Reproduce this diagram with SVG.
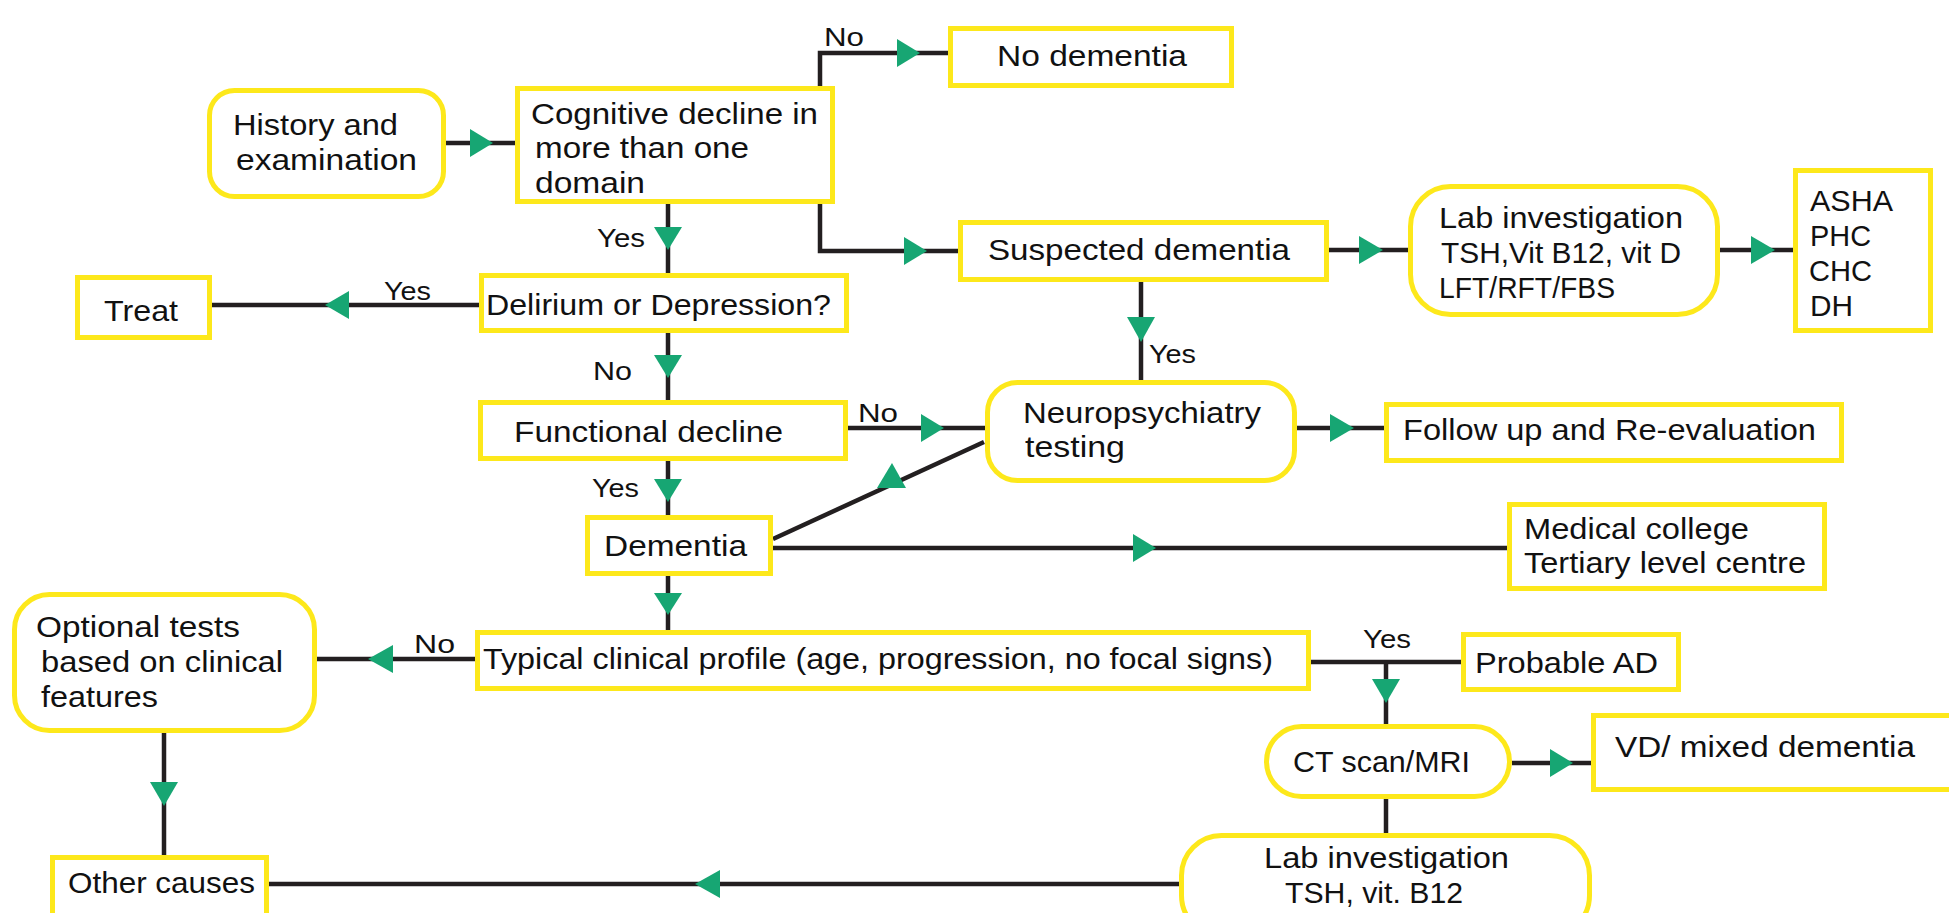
<svg xmlns="http://www.w3.org/2000/svg" width="1949" height="913" viewBox="0 0 1949 913">
<style>
.box{fill:#fff;stroke:#FDE81B;stroke-width:5}
.ln{stroke:#231F20;stroke-width:4.5;fill:none}
.ah{fill:#17A673}
text{font-family:"Liberation Sans",Arial,sans-serif;font-size:30px;fill:#111}
.lb{font-size:26px}
</style>
<rect width="1949" height="913" fill="#fff"/>
<g id="connectors">
<path class="ln" d="M446,143H515"/><polygon class="ah" points="470,129 493,143 470,157"/>
<path class="ln" d="M820,86V53H950"/><polygon class="ah" points="897,39 920,53 897,67"/>
<path class="ln" d="M820,204V251H958"/><polygon class="ah" points="904,237 927,251 904,265"/>
<path class="ln" d="M668,204V273"/><polygon class="ah" points="654,227 682,227 668,250"/>
<path class="ln" d="M479,305H212"/><polygon class="ah" points="349,291 349,319 325,305"/>
<path class="ln" d="M668,333V400"/><polygon class="ah" points="654,355 682,355 668,378"/>
<path class="ln" d="M848,428H985"/><polygon class="ah" points="921,414 944,428 921,442"/>
<path class="ln" d="M1141,281V380"/><polygon class="ah" points="1127,317 1155,317 1141,342"/>
<path class="ln" d="M1329,250H1408"/><polygon class="ah" points="1359,236 1383,250 1359,264"/>
<path class="ln" d="M1720,250H1793"/><polygon class="ah" points="1751,236 1775,250 1751,264"/>
<path class="ln" d="M1297,428H1384"/><polygon class="ah" points="1330,414 1354,428 1330,442"/>
<path class="ln" d="M668,461V515"/><polygon class="ah" points="654,479 682,479 668,502"/>
<path class="ln" d="M773,539L984,442"/><polygon class="ah" points="892,463 877,488 906,488"/>
<path class="ln" d="M773,548H1507"/><polygon class="ah" points="1133,534 1156,548 1133,562"/>
<path class="ln" d="M668,576V630"/><polygon class="ah" points="654,593 682,593 668,615"/>
<path class="ln" d="M475,659H317"/><polygon class="ah" points="393,645 393,673 368,659"/>
<path class="ln" d="M164,733V855"/><polygon class="ah" points="150,782 178,782 164,806"/>
<path class="ln" d="M1179,884H269"/><polygon class="ah" points="720,870 720,898 695,884"/>
<path class="ln" d="M1311,662H1461M1386,662V724"/><polygon class="ah" points="1372,679 1400,679 1386,703"/>
<path class="ln" d="M1512,763H1591"/><polygon class="ah" points="1550,749 1573,763 1550,777"/>
<path class="ln" d="M1386,799V833"/>
<text class="lb" x="824" y="46" textLength="40" lengthAdjust="spacingAndGlyphs">No</text>
<text class="lb" x="597" y="247" textLength="48" lengthAdjust="spacingAndGlyphs">Yes</text>
<text class="lb" x="384" y="300" textLength="47" lengthAdjust="spacingAndGlyphs">Yes</text>
<text class="lb" x="593" y="380" textLength="39" lengthAdjust="spacingAndGlyphs">No</text>
<text class="lb" x="858" y="422" textLength="40" lengthAdjust="spacingAndGlyphs">No</text>
<text class="lb" x="1149" y="363" textLength="47" lengthAdjust="spacingAndGlyphs">Yes</text>
<text class="lb" x="592" y="497" textLength="47" lengthAdjust="spacingAndGlyphs">Yes</text>
<text class="lb" x="414" y="653" textLength="41" lengthAdjust="spacingAndGlyphs">No</text>
<text class="lb" x="1363" y="648" textLength="48" lengthAdjust="spacingAndGlyphs">Yes</text>
</g>
<g id="history"><rect class="box" x="209.5" y="90.5" width="234" height="106" rx="25"/>
<text x="233" y="135" textLength="165" lengthAdjust="spacingAndGlyphs">History and</text>
<text x="236" y="170" textLength="181" lengthAdjust="spacingAndGlyphs">examination</text></g>
<g id="cognitive"><rect class="box" x="517.5" y="88.5" width="315" height="113"/>
<text x="531" y="124" textLength="287" lengthAdjust="spacingAndGlyphs">Cognitive decline in</text>
<text x="535" y="158" textLength="214" lengthAdjust="spacingAndGlyphs">more than one</text>
<text x="535" y="193" textLength="110" lengthAdjust="spacingAndGlyphs">domain</text></g>
<g id="nodementia"><rect class="box" x="950.5" y="28.5" width="281" height="57"/>
<text x="997" y="66" textLength="190" lengthAdjust="spacingAndGlyphs">No dementia</text></g>
<g id="suspected"><rect class="box" x="960.5" y="222.5" width="366" height="57"/>
<text x="988" y="260" textLength="302" lengthAdjust="spacingAndGlyphs">Suspected dementia</text></g>
<g id="labtop"><rect class="box" x="1410.5" y="186.5" width="307" height="128" rx="40"/>
<text x="1439" y="228" textLength="244" lengthAdjust="spacingAndGlyphs">Lab investigation</text>
<text x="1441" y="263" textLength="240" lengthAdjust="spacingAndGlyphs">TSH,Vit B12, vit D</text>
<text x="1439" y="298" textLength="176" lengthAdjust="spacingAndGlyphs">LFT/RFT/FBS</text></g>
<g id="asha"><rect class="box" x="1795.5" y="170.5" width="135" height="160"/>
<text x="1810" y="211" textLength="83" lengthAdjust="spacingAndGlyphs">ASHA</text>
<text x="1810" y="246" textLength="61" lengthAdjust="spacingAndGlyphs">PHC</text>
<text x="1809" y="281" textLength="63" lengthAdjust="spacingAndGlyphs">CHC</text>
<text x="1810" y="316" textLength="43" lengthAdjust="spacingAndGlyphs">DH</text></g>
<g id="treat"><rect class="box" x="77.5" y="277.5" width="132" height="60"/>
<text x="104" y="321" textLength="74" lengthAdjust="spacingAndGlyphs">Treat</text></g>
<g id="delirium"><rect class="box" x="481.5" y="275.5" width="365" height="55"/>
<text x="486" y="315" textLength="345" lengthAdjust="spacingAndGlyphs">Delirium or Depression?</text></g>
<g id="functional"><rect class="box" x="480.5" y="402.5" width="365" height="56"/>
<text x="514" y="442" textLength="269" lengthAdjust="spacingAndGlyphs">Functional decline</text></g>
<g id="neuro"><rect class="box" x="987.5" y="382.5" width="307" height="98" rx="30"/>
<text x="1023" y="423" textLength="238" lengthAdjust="spacingAndGlyphs">Neuropsychiatry</text>
<text x="1025" y="457" textLength="100" lengthAdjust="spacingAndGlyphs">testing</text></g>
<g id="followup"><rect class="box" x="1386.5" y="404.5" width="455" height="56"/>
<text x="1403" y="440" textLength="413" lengthAdjust="spacingAndGlyphs">Follow up and Re-evaluation</text></g>
<g id="dementia"><rect class="box" x="587.5" y="517.5" width="183" height="56"/>
<text x="604" y="556" textLength="143" lengthAdjust="spacingAndGlyphs">Dementia</text></g>
<g id="medical"><rect class="box" x="1509.5" y="504.5" width="315" height="84"/>
<text x="1524" y="539" textLength="225" lengthAdjust="spacingAndGlyphs">Medical college</text>
<text x="1524" y="573" textLength="282" lengthAdjust="spacingAndGlyphs">Tertiary level centre</text></g>
<g id="optional"><rect class="box" x="14.5" y="594.5" width="300" height="136" rx="35"/>
<text x="36" y="637" textLength="204" lengthAdjust="spacingAndGlyphs">Optional tests</text>
<text x="41" y="672" textLength="242" lengthAdjust="spacingAndGlyphs">based on clinical</text>
<text x="41" y="707" textLength="117" lengthAdjust="spacingAndGlyphs">features</text></g>
<g id="typical"><rect class="box" x="477.5" y="632.5" width="831" height="56"/>
<text x="483" y="669" textLength="790" lengthAdjust="spacingAndGlyphs">Typical clinical profile (age, progression, no focal signs)</text></g>
<g id="probable"><rect class="box" x="1463.5" y="634.5" width="215" height="55"/>
<text x="1475" y="673" textLength="183" lengthAdjust="spacingAndGlyphs">Probable AD</text></g>
<g id="ctscan"><rect class="box" x="1266.5" y="726.5" width="243" height="70" rx="35"/>
<text x="1293" y="772" textLength="177" lengthAdjust="spacingAndGlyphs">CT scan/MRI</text></g>
<g id="vd"><rect class="box" x="1593.5" y="715.5" width="380" height="74"/>
<text x="1615" y="757" textLength="300" lengthAdjust="spacingAndGlyphs">VD/ mixed dementia</text></g>
<g id="othercauses"><rect class="box" x="52.5" y="857.5" width="214" height="70"/>
<text x="68" y="893" textLength="187" lengthAdjust="spacingAndGlyphs">Other causes</text></g>
<g id="labbottom"><rect class="box" x="1181.5" y="835.5" width="408" height="100" rx="40"/>
<text x="1264" y="868" textLength="245" lengthAdjust="spacingAndGlyphs">Lab investigation</text>
<text x="1285" y="903" textLength="178" lengthAdjust="spacingAndGlyphs">TSH, vit. B12</text></g>
</svg>
